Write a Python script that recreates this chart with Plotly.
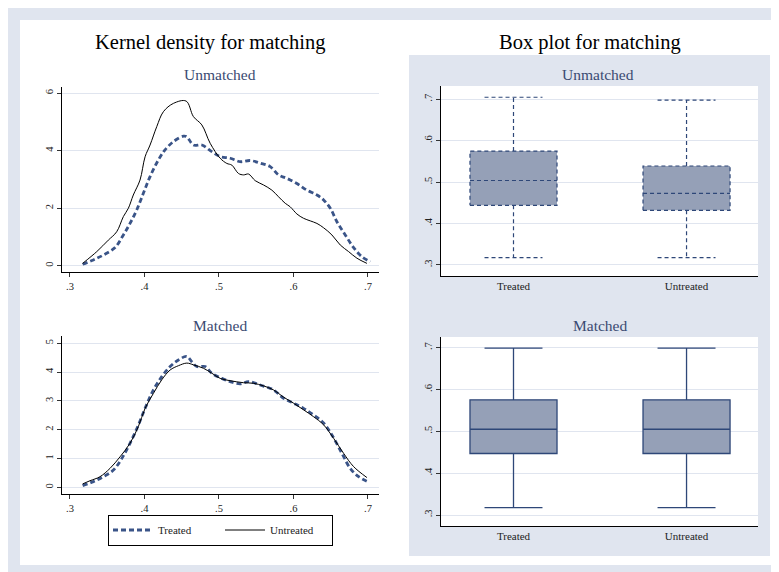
import plotly.graph_objects as go

# ---------------- data ----------------
x_tick_vals = [0.3, 0.4, 0.5, 0.6, 0.7]
x_tick_text = [".3", ".4", ".5", ".6", ".7"]

# Kernel density, unmatched sample
um_treated_x = [0.317, 0.3314, 0.3448, 0.3605, 0.3717, 0.3806, 0.3896, 0.3985, 0.4075, 0.4187,
                0.4276, 0.4389, 0.4523, 0.4568, 0.4657, 0.477, 0.4904, 0.5016, 0.515, 0.5285,
                0.5419, 0.5553, 0.5688, 0.5799, 0.591, 0.6046, 0.618, 0.6315, 0.6404, 0.6494,
                0.6583, 0.6695, 0.6807, 0.6919, 0.7031]
um_treated_y = [0.05, 0.20, 0.37, 0.63, 1.07, 1.47, 1.94, 2.52, 3.10, 3.68,
                4.03, 4.32, 4.51, 4.49, 4.20, 4.20, 3.97, 3.80, 3.74, 3.62,
                3.66, 3.57, 3.45, 3.16, 3.04, 2.86, 2.63, 2.46, 2.29, 2.00,
                1.53, 1.07, 0.63, 0.31, 0.14]
um_untreated_x = [0.317, 0.336, 0.3515, 0.3627, 0.3717, 0.3784, 0.385, 0.394, 0.4008, 0.4075,
                  0.4165, 0.4254, 0.4389, 0.4559, 0.4657, 0.477, 0.4882, 0.5016, 0.5105, 0.5173,
                  0.5262, 0.533, 0.5397, 0.5486, 0.5598, 0.571, 0.5799, 0.589, 0.5956, 0.6046,
                  0.6135, 0.6225, 0.6315, 0.6404, 0.6516, 0.6628, 0.674, 0.6852, 0.6986]
um_untreated_y = [0.08, 0.49, 0.89, 1.18, 1.71, 2.00, 2.46, 2.98, 3.79, 4.20,
                  4.84, 5.36, 5.65, 5.73, 5.19, 4.90, 4.26, 3.74, 3.56, 3.50,
                  3.21, 3.16, 3.19, 2.96, 2.81, 2.63, 2.40, 2.17, 2.05, 1.80,
                  1.65, 1.56, 1.47, 1.32, 1.07, 0.72, 0.49, 0.26, 0.08]

# Kernel density, matched sample
m_treated_x = [0.317, 0.3314, 0.3448, 0.3583, 0.3695, 0.3806, 0.3918, 0.4008, 0.412, 0.4232,
               0.4344, 0.4456, 0.4568, 0.4635, 0.4702, 0.4814, 0.4904, 0.5038, 0.515, 0.5285,
               0.5397, 0.5553, 0.5732, 0.5867, 0.6001, 0.6135, 0.627, 0.6404, 0.6516, 0.665,
               0.6762, 0.6874, 0.6995]
m_treated_y = [0.06, 0.20, 0.37, 0.60, 1.00, 1.53, 2.16, 2.74, 3.38, 3.84,
               4.19, 4.42, 4.54, 4.36, 4.19, 4.19, 3.96, 3.78, 3.67, 3.59,
               3.67, 3.55, 3.38, 3.09, 2.92, 2.74, 2.51, 2.23, 1.82, 1.18,
               0.66, 0.37, 0.20]
m_untreated_x = [0.317, 0.3269, 0.3403, 0.3538, 0.3672, 0.3806, 0.3918, 0.4008, 0.412, 0.4232,
                 0.4344, 0.4456, 0.4568, 0.4657, 0.4792, 0.4904, 0.5016, 0.515, 0.533, 0.5464,
                 0.5598, 0.5732, 0.5867, 0.6001, 0.6135, 0.627, 0.6404, 0.6539, 0.6673, 0.6807,
                 0.6986]
m_untreated_y = [0.12, 0.23, 0.37, 0.66, 1.06, 1.53, 2.11, 2.74, 3.26, 3.73,
                 4.07, 4.22, 4.31, 4.25, 4.13, 3.96, 3.78, 3.70, 3.63, 3.61,
                 3.52, 3.38, 3.13, 2.92, 2.69, 2.45, 2.17, 1.70, 1.18, 0.72,
                 0.34]

# Box plots
box_groups = ["Treated", "Untreated"]
box_y_ticks = [0.3, 0.4, 0.5, 0.6, 0.7]
box_y_tick_text = [".3", ".4", ".5", ".6", ".7"]
um_lower = [0.318, 0.318]
um_q1 = [0.444, 0.432]
um_median = [0.504, 0.473]
um_q3 = [0.575, 0.539]
um_upper = [0.705, 0.698]
m_lower = [0.3175, 0.3175]
m_q1 = [0.447, 0.447]
m_median = [0.505, 0.505]
m_q3 = [0.5755, 0.5755]
m_upper = [0.699, 0.699]

# ---------------- style ----------------
OFF = 8                      # page body margin
W, H = 779 - OFF, 572 - OFF
FONT = "Liberation Serif, Times New Roman, serif"
BAND = "#E0E5EF"
GRID = "#E0E5EF"
NAVY = "#2E4778"
DASHC = "#3A5488"
BOXFILL = "#95A0B7"
SUBC = "#3A4A72"
BOX_W = 0.503
CAP_W = 0.335


def px(x):
    return (x - OFF) / W


def py(y):
    return 1 - (y - OFF) / H


fig = go.Figure()

# density traces
fig.add_trace(go.Scatter(x=um_treated_x, y=um_treated_y, mode="lines", name="Treated",
                         line=dict(color=DASHC, width=2.8, dash="5px,3px", shape="spline"),
                         xaxis="x", yaxis="y", legendgroup="t"))
fig.add_trace(go.Scatter(x=um_untreated_x, y=um_untreated_y, mode="lines", name="Untreated",
                         line=dict(color="black", width=1, shape="spline"),
                         xaxis="x", yaxis="y", legendgroup="u"))
fig.add_trace(go.Scatter(x=m_treated_x, y=m_treated_y, mode="lines", name="Treated",
                         line=dict(color=DASHC, width=2.8, dash="5px,3px", shape="spline"),
                         xaxis="x2", yaxis="y2", legendgroup="t", showlegend=False))
fig.add_trace(go.Scatter(x=m_untreated_x, y=m_untreated_y, mode="lines", name="Untreated",
                         line=dict(color="black", width=1, shape="spline"),
                         xaxis="x2", yaxis="y2", legendgroup="u", showlegend=False))

# unmatched box plots (dashed outlines)
for i, g in enumerate(box_groups):
    lx, rx = i - BOX_W / 2, i + BOX_W / 2
    fig.add_trace(go.Scatter(x=[lx, rx, rx, lx, lx],
                             y=[um_q1[i], um_q1[i], um_q3[i], um_q3[i], um_q1[i]],
                             mode="lines", fill="toself", fillcolor=BOXFILL,
                             line=dict(color=NAVY, width=1.2, dash="4px,3px"),
                             xaxis="x3", yaxis="y3", showlegend=False, hoverinfo="skip"))
    fig.add_trace(go.Scatter(
        x=[lx, rx, None, i, i, None, i, i, None, i - CAP_W / 2, i + CAP_W / 2, None, i - CAP_W / 2, i + CAP_W / 2],
        y=[um_median[i], um_median[i], None, um_q3[i], um_upper[i], None, um_q1[i], um_lower[i], None,
           um_upper[i], um_upper[i], None, um_lower[i], um_lower[i]],
        mode="lines", line=dict(color=NAVY, width=1.2, dash="4px,3px"),
        xaxis="x3", yaxis="y3", showlegend=False, hoverinfo="skip"))

# matched box plots
fig.add_trace(go.Box(x=[0, 1], q1=m_q1, median=m_median, q3=m_q3,
                     lowerfence=m_lower, upperfence=m_upper,
                     width=BOX_W, whiskerwidth=CAP_W / BOX_W, boxpoints=False,
                     fillcolor=BOXFILL, line=dict(color=NAVY, width=1.3),
                     xaxis="x4", yaxis="y4", showlegend=False))

# ---------------- layout ----------------
dens_dom_x = [px(62), px(379)]
box_dom_x = [px(441), px(758)]

common_x = dict(showgrid=False, zeroline=False, showline=True, linecolor="black", linewidth=1,
                ticks="outside", ticklen=4, tickcolor="#333", tickfont=dict(family=FONT, size=10.5, color="#222"))
common_y = dict(showgrid=True, gridcolor=GRID, gridwidth=1, zeroline=False, showline=True,
                linecolor="black", linewidth=1, ticks="outside", ticklen=4, tickcolor="#333",
                tickangle=-90, tickfont=dict(family=FONT, size=10.5, color="#222"))
cat_x = {**common_x, "ticks": "", "tickfont": dict(family=FONT, size=11, color="#222")}

fig.update_layout(
    width=W, height=H, autosize=False,
    margin=dict(l=0, r=0, t=0, b=0),
    paper_bgcolor=BAND, plot_bgcolor="white",
    font=dict(family=FONT, color="black"),
    xaxis=dict(domain=dens_dom_x, range=[0.2893, 0.7148], tickvals=x_tick_vals, ticktext=x_tick_text,
               anchor="y", **common_x),
    yaxis=dict(domain=[py(272), py(87)], range=[-0.22, 6.22], tickvals=[0, 2, 4, 6],
               anchor="x", **common_y),
    xaxis2=dict(domain=dens_dom_x, range=[0.2893, 0.7148], tickvals=x_tick_vals, ticktext=x_tick_text,
                anchor="y2", **common_x),
    yaxis2=dict(domain=[py(494), py(336)], range=[-0.23, 5.25], tickvals=[0, 1, 2, 3, 4, 5],
                anchor="x2", **common_y),
    xaxis3=dict(domain=box_dom_x, range=[-0.419, 1.413], tickvals=[0, 1], ticktext=box_groups,
                anchor="y3", **cat_x),
    yaxis3=dict(domain=[py(276), py(86)], range=[0.2734, 0.7321], tickvals=box_y_ticks,
                ticktext=box_y_tick_text, anchor="x3", **common_y),
    xaxis4=dict(domain=box_dom_x, range=[-0.419, 1.413], tickvals=[0, 1], ticktext=box_groups,
                anchor="y4", **cat_x),
    yaxis4=dict(domain=[py(526), py(337)], range=[0.2737, 0.7256], tickvals=box_y_ticks,
                ticktext=box_y_tick_text, anchor="x4", **common_y),
    legend=dict(orientation="h", x=px(108), xanchor="left", y=py(530), yanchor="middle",
                bgcolor="white", bordercolor="black", borderwidth=1,
                font=dict(family=FONT, size=11, color="#222"), entrywidth=57, itemwidth=40,
                tracegroupgap=0),
    shapes=[
        dict(type="rect", xref="paper", yref="paper", x0=px(20), x1=1, y0=py(565), y1=py(20),
             fillcolor="white", line=dict(width=0), layer="below"),
        dict(type="rect", xref="paper", yref="paper", x0=px(409), x1=px(770), y0=py(556), y1=py(55),
             fillcolor=BAND, line=dict(width=0), layer="below"),
        dict(type="rect", xref="paper", yref="paper", x0=box_dom_x[0], x1=box_dom_x[1], y0=py(276), y1=py(86),
             fillcolor="white", line=dict(width=0), layer="below"),
        dict(type="rect", xref="paper", yref="paper", x0=box_dom_x[0], x1=box_dom_x[1], y0=py(526), y1=py(337),
             fillcolor="white", line=dict(width=0), layer="below"),
    ],
    annotations=[
        dict(text="Kernel density for matching", x=px(210), y=py(42), xref="paper", yref="paper",
             showarrow=False, font=dict(family=FONT, size=20.5, color="black"), xanchor="center", yanchor="middle"),
        dict(text="Box plot for matching", x=px(590), y=py(42), xref="paper", yref="paper",
             showarrow=False, font=dict(family=FONT, size=20.5, color="black"), xanchor="center", yanchor="middle"),
        dict(text="Unmatched", x=px(220), y=py(75), xref="paper", yref="paper", showarrow=False,
             font=dict(family=FONT, size=15.5, color=SUBC), xanchor="center", yanchor="middle"),
        dict(text="Matched", x=px(220), y=py(325), xref="paper", yref="paper", showarrow=False,
             font=dict(family=FONT, size=15.5, color=SUBC), xanchor="center", yanchor="middle"),
        dict(text="Unmatched", x=px(598), y=py(75), xref="paper", yref="paper", showarrow=False,
             font=dict(family=FONT, size=15.5, color=SUBC), xanchor="center", yanchor="middle"),
        dict(text="Matched", x=px(600), y=py(325), xref="paper", yref="paper", showarrow=False,
             font=dict(family=FONT, size=15.5, color=SUBC), xanchor="center", yanchor="middle"),
    ],
)

fig.write_html("out.html")
